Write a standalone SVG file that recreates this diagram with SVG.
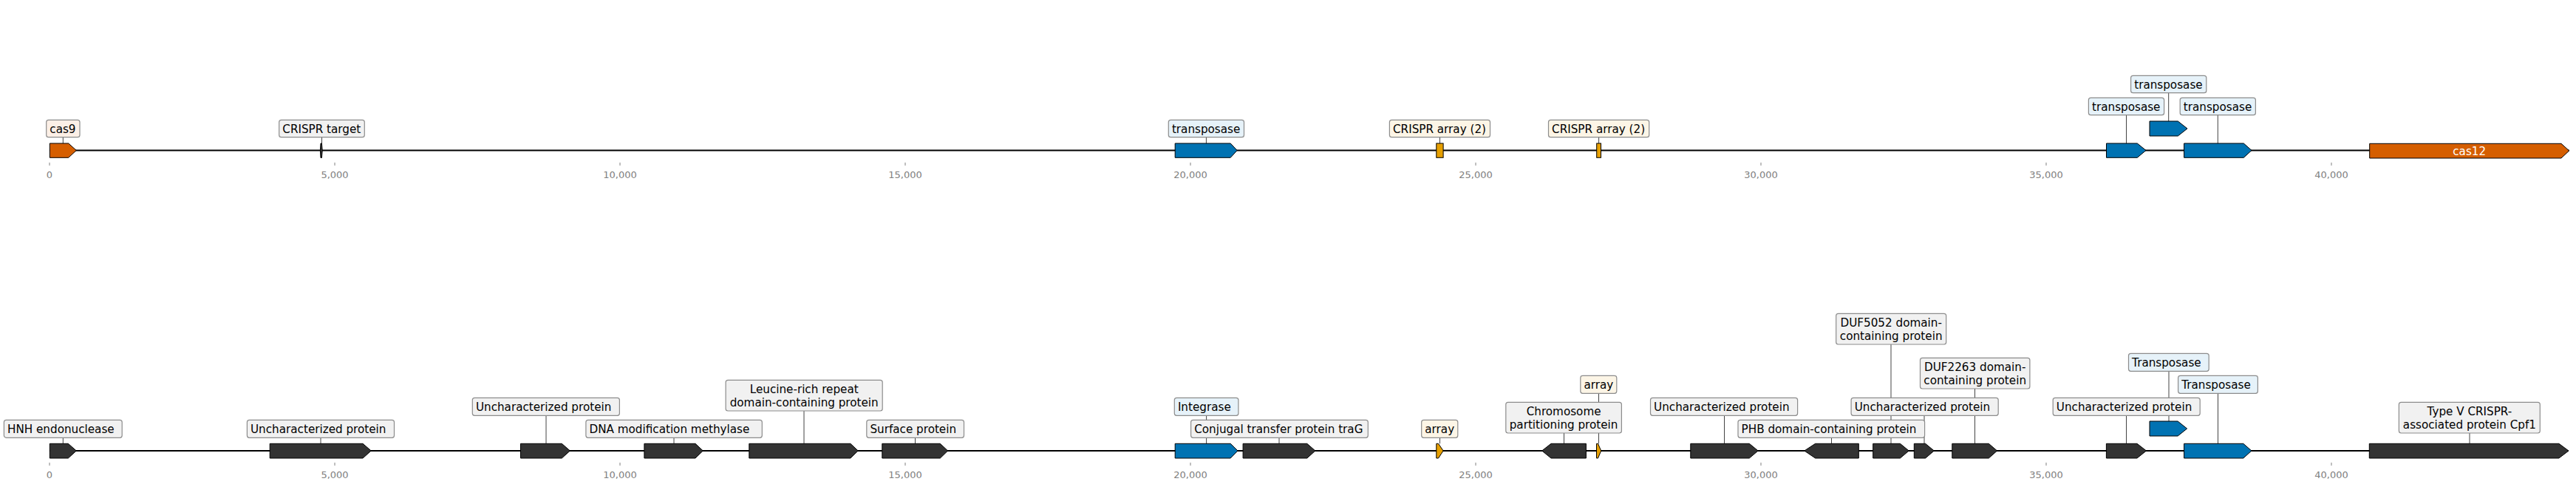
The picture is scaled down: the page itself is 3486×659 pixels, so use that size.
<svg xmlns="http://www.w3.org/2000/svg" width="3486" height="659" viewBox="0 0 3486 659">
<style>
text{font-family:"DejaVu Sans","Liberation Sans",sans-serif}
.lbl{font-size:15.2px;fill:#000}
.lc{font-size:15.2px;fill:#000;text-anchor:middle}
.tick{font-size:13px;fill:#808080;text-anchor:middle}
.tk{stroke:#808080;stroke-width:1}
.axis{stroke:#000;stroke-width:2;fill:none}
.g{stroke:#000;stroke-width:1;stroke-linejoin:miter}
.dark{fill:#333333}
.blue{fill:#0072b2}
.org{fill:#d55e00}
.yel{fill:#e69f00}
.box{stroke:#8c8c8c;stroke-width:1.2}
.bn{fill:#f1f1f1}
.bb{fill:#e6f2f9}
.bo{fill:#fcefe6}
.by{fill:#fcf5e6}
.lead{stroke:#444;stroke-width:1;fill:none}
</style>
<rect width="3486" height="659" fill="#fff"/>
<g id="track-top">
<line class="axis" x1="67.3" y1="203.5" x2="3476.7" y2="203.5"/>
<g id="ticks-top">
<line class="tk" x1="67" y1="220" x2="67" y2="224"/><text class="tick" x="67" y="240.7">0</text>
<line class="tk" x1="453" y1="220" x2="453" y2="224"/><text class="tick" x="453" y="240.7">5,000</text>
<line class="tk" x1="839" y1="220" x2="839" y2="224"/><text class="tick" x="839" y="240.7">10,000</text>
<line class="tk" x1="1225" y1="220" x2="1225" y2="224"/><text class="tick" x="1225" y="240.7">15,000</text>
<line class="tk" x1="1611" y1="220" x2="1611" y2="224"/><text class="tick" x="1611" y="240.7">20,000</text>
<line class="tk" x1="1997" y1="220" x2="1997" y2="224"/><text class="tick" x="1997" y="240.7">25,000</text>
<line class="tk" x1="2383" y1="220" x2="2383" y2="224"/><text class="tick" x="2383" y="240.7">30,000</text>
<line class="tk" x1="2769" y1="220" x2="2769" y2="224"/><text class="tick" x="2769" y="240.7">35,000</text>
<line class="tk" x1="3155" y1="220" x2="3155" y2="224"/><text class="tick" x="3155" y="240.7">40,000</text>
</g>
</g>
<g id="track-bottom">
<line class="axis" x1="67.3" y1="610" x2="3476" y2="610"/>
<g id="ticks-bottom">
<line class="tk" x1="67" y1="626" x2="67" y2="630"/><text class="tick" x="67" y="647">0</text>
<line class="tk" x1="453" y1="626" x2="453" y2="630"/><text class="tick" x="453" y="647">5,000</text>
<line class="tk" x1="839" y1="626" x2="839" y2="630"/><text class="tick" x="839" y="647">10,000</text>
<line class="tk" x1="1225" y1="626" x2="1225" y2="630"/><text class="tick" x="1225" y="647">15,000</text>
<line class="tk" x1="1611" y1="626" x2="1611" y2="630"/><text class="tick" x="1611" y="647">20,000</text>
<line class="tk" x1="1997" y1="626" x2="1997" y2="630"/><text class="tick" x="1997" y="647">25,000</text>
<line class="tk" x1="2383" y1="626" x2="2383" y2="630"/><text class="tick" x="2383" y="647">30,000</text>
<line class="tk" x1="2769" y1="626" x2="2769" y2="630"/><text class="tick" x="2769" y="647">35,000</text>
<line class="tk" x1="3155" y1="626" x2="3155" y2="630"/><text class="tick" x="3155" y="647">40,000</text>
</g>
</g>
<g id="connectors">
<line class="lead" x1="85.3" y1="185.7" x2="85.3" y2="194"/>
<line class="lead" x1="435.5" y1="185.7" x2="435.5" y2="194"/>
<line class="lead" x1="1632.4" y1="185.7" x2="1632.4" y2="194"/>
<line class="lead" x1="1948.5" y1="185.7" x2="1948.5" y2="194"/>
<line class="lead" x1="2163.6" y1="185.7" x2="2163.6" y2="194"/>
<line class="lead" x1="2877.5" y1="155.7" x2="2877.5" y2="194"/>
<line class="lead" x1="2934.7" y1="125.7" x2="2934.7" y2="164"/>
<line class="lead" x1="3001.3" y1="155.7" x2="3001.3" y2="194"/>
<line class="lead" x1="85.3" y1="592.3" x2="85.3" y2="600.3"/>
<line class="lead" x1="434" y1="592.3" x2="434" y2="600.3"/>
<line class="lead" x1="739" y1="562.3" x2="739" y2="600.3"/>
<line class="lead" x1="912" y1="592.3" x2="912" y2="600.3"/>
<line class="lead" x1="1088" y1="556" x2="1088" y2="600.3"/>
<line class="lead" x1="1238.5" y1="592.3" x2="1238.5" y2="600.3"/>
<line class="lead" x1="1632.6" y1="562.3" x2="1632.6" y2="600.3"/>
<line class="lead" x1="1731" y1="592.3" x2="1731" y2="600.3"/>
<line class="lead" x1="1948.5" y1="592.3" x2="1948.5" y2="600.3"/>
<line class="lead" x1="2116.5" y1="586" x2="2116.5" y2="600.3"/>
<line class="lead" x1="2163.5" y1="532.3" x2="2163.5" y2="600.3"/>
<line class="lead" x1="2333.5" y1="562.3" x2="2333.5" y2="600.3"/>
<line class="lead" x1="2478.5" y1="592.3" x2="2478.5" y2="600.3"/>
<line class="lead" x1="2559" y1="466" x2="2559" y2="600.3"/>
<line class="lead" x1="2604" y1="562.3" x2="2604" y2="600.3"/>
<line class="lead" x1="2672.5" y1="526" x2="2672.5" y2="600.3"/>
<line class="lead" x1="2877.5" y1="562.3" x2="2877.5" y2="600.3"/>
<line class="lead" x1="2935" y1="502.3" x2="2935" y2="570"/>
<line class="lead" x1="3001.5" y1="532.3" x2="3001.5" y2="600.3"/>
<line class="lead" x1="3342" y1="586" x2="3342" y2="600.3"/>
</g>
<g id="t-cas9">
<path class="g org" d="M67.3,194 L92.7,194 L103.3,203.5 L92.7,213.3 L67.3,213.3 Z"/>
<rect class="box bo" x="62.7" y="162.3" width="45.3" height="23.4" rx="3"/>
<text class="lbl" x="67.3" y="180.3">cas9</text>
</g>
<g id="t-crispr-target">
<path class="g dark" d="M434,194 L435.4,194 L436.2,203.5 L435.4,213.5 L434,213.5 L433.4,203.5 Z"/>
<rect class="box bn" x="377.7" y="162.3" width="115.6" height="23.4" rx="3"/>
<text class="lbl" x="382.3" y="180.3">CRISPR target</text>
</g>
<g id="t-transposase-1">
<path class="g blue" d="M1590.2,194 L1665.2,194 L1674.1,203.5 L1665.2,213.3 L1590.2,213.3 Z"/>
<rect class="box bb" x="1581.3" y="162.3" width="102.2" height="23.4" rx="3"/>
<text class="lbl" x="1585.9" y="180.3">transposase</text>
</g>
<g id="t-crispr-array-1">
<rect class="g yel" x="1943.8" y="194" width="9.3" height="19.3"/>
<rect class="box by" x="1880.4" y="162.3" width="136.1" height="23.4" rx="3"/>
<text class="lbl" x="1885" y="180.3">CRISPR array (2)</text>
</g>
<g id="t-crispr-array-2">
<rect class="g yel" x="2160.7" y="194" width="5.8" height="19.3"/>
<rect class="box by" x="2095.5" y="162.3" width="136.2" height="23.4" rx="3"/>
<text class="lbl" x="2100.1" y="180.3">CRISPR array (2)</text>
</g>
<g id="t-transposase-2">
<path class="g blue" d="M2850.5,194 L2892.3,194 L2904,203.5 L2892.3,213.3 L2850.5,213.3 Z"/>
<rect class="box bb" x="2826.4" y="132.3" width="102.2" height="23.4" rx="3"/>
<text class="lbl" x="2831" y="150.3">transposase</text>
</g>
<g id="t-transposase-3">
<path class="g blue" d="M2909,164 L2947.3,164 L2960,174 L2947.3,184 L2909,184 Z"/>
<rect class="box bb" x="2883.6" y="102.3" width="102.2" height="23.4" rx="3"/>
<text class="lbl" x="2888.2" y="120.3">transposase</text>
</g>
<g id="t-transposase-4">
<path class="g blue" d="M2955.6,194 L3036.3,194 L3047,203.5 L3036.3,213.3 L2955.6,213.3 Z"/>
<rect class="box bb" x="2950.2" y="132.3" width="102.2" height="23.4" rx="3"/>
<text class="lbl" x="2954.8" y="150.3">transposase</text>
</g>
<g id="t-cas12">
<path class="g org" d="M3206.7,194.3 L3466,194.3 L3476.7,204 L3466,214 L3206.7,214 Z"/>
<text class="lc" x="3341.7" y="209.5" fill="#fff" style="fill:#fff">cas12</text>
</g>
<g id="b-hnh">
<path class="g dark" d="M67.3,600.3 L92.3,600.3 L103.3,610 L92.3,620 L67.3,620 Z"/>
<rect class="box bn" x="5.4" y="568.3" width="159.8" height="24" rx="3"/>
<text class="lbl" x="10" y="586.3">HNH endonuclease</text>
</g>
<g id="b-unchar-1">
<path class="g dark" d="M365.2,600.3 L491,600.3 L502.2,610 L491,620 L365.2,620 Z"/>
<rect class="box bn" x="334.4" y="568.3" width="199.1" height="24" rx="3"/>
<text class="lbl" x="339" y="586.3">Uncharacterized protein</text>
</g>
<g id="b-unchar-2">
<path class="g dark" d="M704.5,600.3 L760.3,600.3 L771.4,610 L760.3,620 L704.5,620 Z"/>
<rect class="box bn" x="639.3" y="538.3" width="199.1" height="24" rx="3"/>
<text class="lbl" x="643.9" y="556.3">Uncharacterized protein</text>
</g>
<g id="b-dna-methylase">
<path class="g dark" d="M871.9,600.3 L941,600.3 L951.3,610 L941,620 L871.9,620 Z"/>
<rect class="box bn" x="792.9" y="568.3" width="238.4" height="24" rx="3"/>
<text class="lbl" x="797.5" y="586.3">DNA modification methylase</text>
</g>
<g id="b-leucine">
<path class="g dark" d="M1013.8,600.3 L1150.9,600.3 L1161.2,610 L1150.9,620 L1013.8,620 Z"/>
<rect class="box bn" x="982.1" y="514.3" width="212.1" height="41.7" rx="3"/>
<text class="lc" x="1088.2" y="532">Leucine-rich repeat</text>
<text class="lc" x="1088.2" y="549.5">domain-containing protein</text>
</g>
<g id="b-surface">
<path class="g dark" d="M1193.8,600.3 L1272.3,600.3 L1282.6,610 L1272.3,620 L1193.8,620 Z"/>
<rect class="box bn" x="1172.8" y="568.3" width="131.7" height="24" rx="3"/>
<text class="lbl" x="1177.4" y="586.3">Surface protein</text>
</g>
<g id="b-integrase">
<path class="g blue" d="M1590.2,600.3 L1665.2,600.3 L1675,610 L1665.2,620 L1590.2,620 Z"/>
<rect class="box bb" x="1589.3" y="538.3" width="86.6" height="24" rx="3"/>
<text class="lbl" x="1593.9" y="556.3">Integrase</text>
</g>
<g id="b-trag">
<path class="g dark" d="M1682.1,600.3 L1768.8,600.3 L1779.9,610 L1768.8,620 L1682.1,620 Z"/>
<rect class="box bn" x="1611.6" y="568.3" width="239.7" height="24" rx="3"/>
<text class="lbl" x="1616.2" y="586.3">Conjugal transfer protein traG</text>
</g>
<g id="b-array-1">
<path class="g yel" d="M1943.8,600.3 L1946.5,600.3 L1953.1,610 L1946.5,620 L1943.8,620 Z"/>
<rect class="box by" x="1923.7" y="568.3" width="49.1" height="24" rx="3"/>
<text class="lbl" x="1928.3" y="586.3">array</text>
</g>
<g id="b-chromosome">
<path class="g dark" d="M2146.4,600.3 L2099,600.3 L2086.7,610 L2099,620 L2146.4,620 Z"/>
<rect class="box bn" x="2037.8" y="544.3" width="156.6" height="41.7" rx="3"/>
<text class="lc" x="2116.1" y="562">Chromosome</text>
<text class="lc" x="2116.1" y="579.5">partitioning protein</text>
</g>
<g id="b-array-2">
<path class="g yel" d="M2160.5,600.3 L2162.5,600.3 L2166.7,610 L2162.5,620 L2160.5,620 Z"/>
<rect class="box by" x="2138.8" y="508.3" width="49" height="24" rx="3"/>
<text class="lbl" x="2143.4" y="526.3">array</text>
</g>
<g id="b-unchar-3">
<path class="g dark" d="M2287.8,600.3 L2367.3,600.3 L2379.1,610 L2367.3,620 L2287.8,620 Z"/>
<rect class="box bn" x="2233.5" y="538.3" width="199.1" height="24" rx="3"/>
<text class="lbl" x="2238.1" y="556.3">Uncharacterized protein</text>
</g>
<g id="b-phb">
<path class="g dark" d="M2515.3,600.3 L2456.6,600.3 L2441.8,610 L2456.6,620 L2515.3,620 Z"/>
<rect class="box bn" x="2352" y="568.3" width="252.6" height="24" rx="3"/>
<text class="lbl" x="2356.6" y="586.3">PHB domain-containing protein</text>
</g>
<g id="b-duf5052">
<path class="g dark" d="M2534.7,600.3 L2571.4,600.3 L2583.2,610 L2571.4,620 L2534.7,620 Z"/>
<rect class="box bn" x="2484.7" y="424.3" width="149" height="41.7" rx="3"/>
<text class="lc" x="2559.2" y="442">DUF5052 domain-</text>
<text class="lc" x="2559.2" y="459.5">containing protein</text>
</g>
<g id="b-unchar-4">
<path class="g dark" d="M2590.3,600.3 L2605.6,600.3 L2617.3,610 L2605.6,620 L2590.3,620 Z"/>
<rect class="box bn" x="2505.1" y="538.3" width="199.1" height="24" rx="3"/>
<text class="lbl" x="2509.7" y="556.3">Uncharacterized protein</text>
</g>
<g id="b-duf2263">
<path class="g dark" d="M2641.8,600.3 L2691.3,600.3 L2702.6,610 L2691.3,620 L2641.8,620 Z"/>
<rect class="box bn" x="2598.5" y="484.3" width="148.4" height="41.7" rx="3"/>
<text class="lc" x="2672.7" y="502">DUF2263 domain-</text>
<text class="lc" x="2672.7" y="519.5">containing protein</text>
</g>
<g id="b-unchar-5">
<path class="g dark" d="M2850.4,600.3 L2892,600.3 L2904.5,610 L2892,620 L2850.4,620 Z"/>
<rect class="box bn" x="2778.2" y="538.3" width="199" height="24" rx="3"/>
<text class="lbl" x="2782.8" y="556.3">Uncharacterized protein</text>
</g>
<g id="b-transposase-1">
<path class="g blue" d="M2909,570 L2947.1,570 L2959.6,580 L2947.1,590 L2909,590 Z"/>
<rect class="box bb" x="2880.5" y="478.3" width="108.7" height="24" rx="3"/>
<text class="lbl" x="2885.1" y="496.3">Transposase</text>
</g>
<g id="b-transposase-2">
<path class="g blue" d="M2955.6,600.3 L3035.8,600.3 L3046.9,610 L3035.8,620 L2955.6,620 Z"/>
<rect class="box bb" x="2947.6" y="508.3" width="107.8" height="24" rx="3"/>
<text class="lbl" x="2952.2" y="526.3">Transposase</text>
</g>
<g id="b-cpf1">
<path class="g dark" d="M3206.3,600.3 L3462.9,600.3 L3476,610 L3462.9,620 L3206.3,620 Z"/>
<rect class="box bn" x="3246.4" y="544.3" width="190.9" height="41.7" rx="3"/>
<text class="lc" x="3341.9" y="562">Type V CRISPR-</text>
<text class="lc" x="3341.9" y="579.5">associated protein Cpf1</text>
</g>
</svg>
